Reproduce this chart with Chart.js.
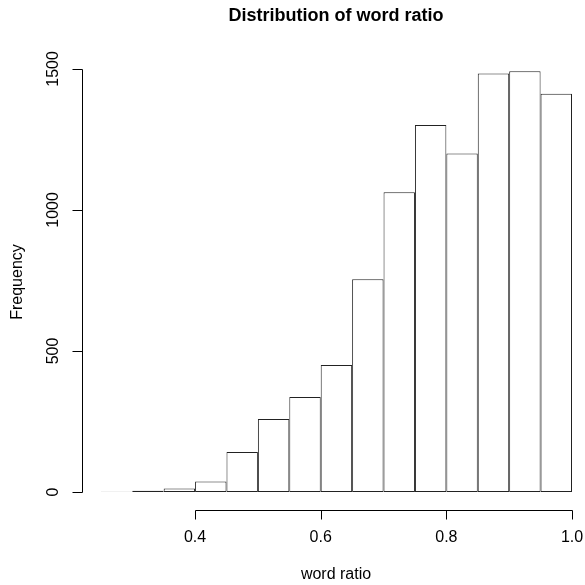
<!DOCTYPE html>
<html>
<head>
<meta charset="utf-8">
<script src="https://cdn.jsdelivr.net/npm/chart.js@4/dist/chart.umd.min.js"></script>
<style>
  html, body { margin: 0; padding: 0; background: #fff; }
  canvas { display: block; }
</style>
</head>
<body>
<canvas id="histChart" width="585" height="585"></canvas>
<script>
// bin midpoints (breaks every 0.05 from 0.25 to 1.0)
const binMids = [0.275, 0.325, 0.375, 0.425, 0.475, 0.525, 0.575, 0.625, 0.675, 0.725, 0.775, 0.825, 0.875, 0.925, 0.975];
const counts = [1, 4, 12, 37, 142, 259, 337, 450, 754, 1063, 1301, 1200, 1484, 1492, 1412];
const xTicks = [0.4, 0.6, 0.8, 1.0];
const yTicks = [0, 500, 1000, 1500];

const titleText = "Distribution of word ratio";
const xLabel = "word ratio";
const yLabel = "Frequency";
const fontFamily = "'Liberation Sans', Arial, Helvetica, sans-serif";

// draw R-style axes, labels and title
const rAxes = {
  id: "rAxes",
  afterDraw(chart) {
    const ctx = chart.ctx;
    const x = chart.scales.x;
    const y = chart.scales.y;
    const area = chart.chartArea;
    ctx.save();
    ctx.strokeStyle = "#000";
    ctx.fillStyle = "#000";
    ctx.lineWidth = 1;

    // x axis
    const xa = Math.round(area.bottom) + 0.5;
    const x0 = Math.round(x.getPixelForValue(xTicks[0])) + 0.5;
    const x1 = Math.round(x.getPixelForValue(xTicks[xTicks.length - 1])) + 0.5;
    ctx.beginPath();
    ctx.moveTo(x0, xa);
    ctx.lineTo(x1, xa);
    xTicks.forEach(v => {
      const px = Math.round(x.getPixelForValue(v)) + 0.5;
      ctx.moveTo(px, xa);
      ctx.lineTo(px, xa + 9);
    });
    ctx.stroke();
    ctx.font = "16px " + fontFamily;
    ctx.textAlign = "center";
    ctx.textBaseline = "middle";
    xTicks.forEach(v => {
      ctx.fillText(v.toFixed(1), x.getPixelForValue(v), 538);
    });

    // y axis
    const ya = Math.round(area.left) + 0.5;
    const y0 = Math.round(y.getPixelForValue(yTicks[0])) + 0.5;
    const y1 = Math.round(y.getPixelForValue(yTicks[yTicks.length - 1])) + 0.5;
    ctx.beginPath();
    ctx.moveTo(ya, y0);
    ctx.lineTo(ya, y1);
    yTicks.forEach(v => {
      const py = Math.round(y.getPixelForValue(v)) + 0.5;
      ctx.moveTo(ya, py);
      ctx.lineTo(ya - 10, py);
    });
    ctx.stroke();
    yTicks.forEach(v => {
      ctx.save();
      ctx.translate(54, y.getPixelForValue(v));
      ctx.rotate(-Math.PI / 2);
      ctx.fillText(String(v), 0, 0);
      ctx.restore();
    });

    // axis titles
    ctx.fillText(xLabel, 336, 575);
    ctx.save();
    ctx.translate(18, 282);
    ctx.rotate(-Math.PI / 2);
    ctx.fillText(yLabel, 0, 0);
    ctx.restore();

    // main title
    ctx.font = "bold 18px " + fontFamily;
    ctx.fillText(titleText, 336, 16);
    ctx.restore();
  }
};

const histChart = new Chart(document.getElementById("histChart"), {
  type: "bar",
  data: {
    datasets: [
      {
        data: binMids.map((m, i) => ({ x: m, y: counts[i] })),
        backgroundColor: "#fff",
        borderColor: "#222",
        borderWidth: 1,
        borderSkipped: false,
        inflateAmount: 0,
        barPercentage: 1,
        categoryPercentage: 1,
      },
    ],
  },
  options: {
    responsive: false,
    animation: false,
    events: [],
    layout: {
      padding: { left: 82, right: 0, top: 54, bottom: 75 },
    },
    plugins: {
      legend: { display: false },
      title: { display: false },
      tooltip: { enabled: false },
    },
    scales: {
      x: {
        type: "linear",
        display: false,
        min: 0.22,
        max: 1.0207,
        offset: false,
      },
      y: {
        display: false,
        min: -64,
        max: 1553,
      },
    },
  },
  plugins: [rAxes],
});
</script>
</body>
</html>
